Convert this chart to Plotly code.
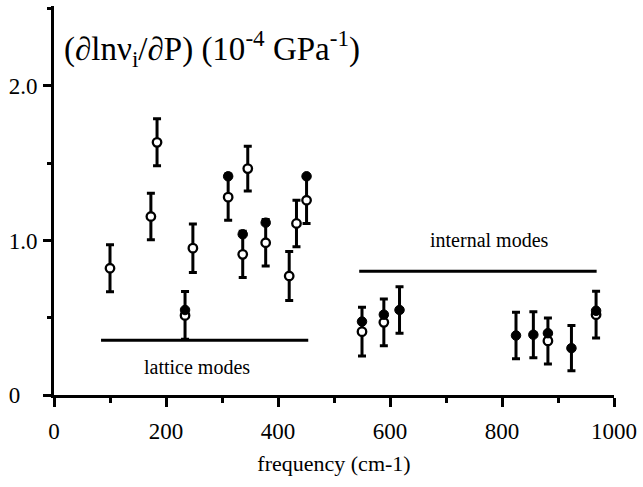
import plotly.graph_objects as go

# frequency (cm-1)
freq = [100, 173, 184, 234, 248, 311, 337, 346, 378, 420, 433, 451,
        550, 589, 617, 825, 856, 882, 924, 968]
# open-circle values
open_val = [0.82, 1.155, 1.635, 0.515, 0.95, 1.28, 0.91, 1.465, 0.985, 0.77, 1.11, 1.26,
            0.41, 0.47, None, None, None, 0.35, None, 0.52]
# filled-circle values
filled_val = [None, None, None, 0.55, None, 1.415, 1.04, None, 1.115, None, None, 1.415,
              0.475, 0.52, 0.55, 0.385, 0.39, 0.40, 0.303, 0.545]
# error bar half-widths
err = [0.152, 0.15, 0.152, 0.155, 0.157, 0.15, 0.15, 0.145, 0.15, 0.158, 0.15, 0.15,
       0.157, 0.151, 0.151, 0.151, 0.149, 0.149, 0.146, 0.151]

lattice_x = [84, 454]
lattice_y = [0.355, 0.355]
internal_x = [545, 969]
internal_y = [0.80, 0.80]

x_ticks = [0, 200, 400, 600, 800, 1000]
y_ticks = [0, 1.0, 2.0]
y_ticktext = ["0\u00a0\u00a0\u00a0", "1.0", "2.0"]

center = [o if o is not None else f for o, f in zip(open_val, filled_val)]

FONT = "Liberation Serif"

fig = go.Figure()

fig.add_trace(go.Scatter(x=lattice_x, y=lattice_y, mode="lines",
                         line=dict(color="black", width=3), showlegend=False))
fig.add_trace(go.Scatter(x=internal_x, y=internal_y, mode="lines",
                         line=dict(color="black", width=3), showlegend=False))

fig.add_trace(go.Scatter(
    x=freq, y=center, mode="markers",
    marker=dict(size=1, color="rgba(0,0,0,0)"),
    error_y=dict(type="data", array=err, visible=True, color="black", thickness=3, width=4),
    showlegend=False))

fig.add_trace(go.Scatter(
    x=freq, y=open_val, mode="markers",
    marker=dict(size=8.5, color="white", line=dict(color="black", width=2.3)),
    showlegend=False))

fig.add_trace(go.Scatter(
    x=freq, y=filled_val, mode="markers",
    marker=dict(size=9.5, color="black", line=dict(color="black", width=1)),
    showlegend=False))

fig.add_annotation(x=14, y=2.245, xref="x", yref="y", xanchor="left", yanchor="middle",
                   text="(\u2202ln\u03bd<sub>i</sub>/\u2202P) (10<sup>-4</sup> GPa<sup>-1</sup>)",
                   showarrow=False, font=dict(family=FONT, size=33, color="black"))
fig.add_annotation(x=255, y=0.178, xref="x", yref="y", text="lattice modes",
                   showarrow=False, font=dict(family=FONT, size=20, color="black"))
fig.add_annotation(x=778, y=1.0, xref="x", yref="y", text="internal modes",
                   showarrow=False, font=dict(family=FONT, size=20, color="black"))

fig.update_layout(
    width=643, height=487,
    margin=dict(l=54, r=25, t=6, b=91.5),
    paper_bgcolor="white", plot_bgcolor="white",
    font=dict(family=FONT, size=23, color="black"),
)
fig.update_xaxes(
    range=[0, 1000], showgrid=False, zeroline=False,
    showline=True, linecolor="black", linewidth=3,
    tickmode="array", tickvals=x_ticks, ticks="outside", ticklen=9, tickwidth=3,
    tickcolor="black", ticklabelstandoff=4,
    minor=dict(tickvals=[100, 300, 500, 700, 900], ticks="outside", ticklen=5,
               tickwidth=3, tickcolor="black"),
    title=dict(text="frequency (cm-1)", font=dict(family=FONT, size=22), standoff=14),
)
fig.update_yaxes(
    range=[0, 2.517], showgrid=False, zeroline=False,
    showline=True, linecolor="black", linewidth=3,
    tickmode="array", tickvals=y_ticks, ticktext=y_ticktext,
    ticks="outside", ticklen=8, tickwidth=3, tickcolor="black", ticklabelstandoff=1,
    minor=dict(tickvals=[0.5, 1.5, 2.5], ticks="outside", ticklen=4,
               tickwidth=3, tickcolor="black"),
)

fig.write_html("out.html")
